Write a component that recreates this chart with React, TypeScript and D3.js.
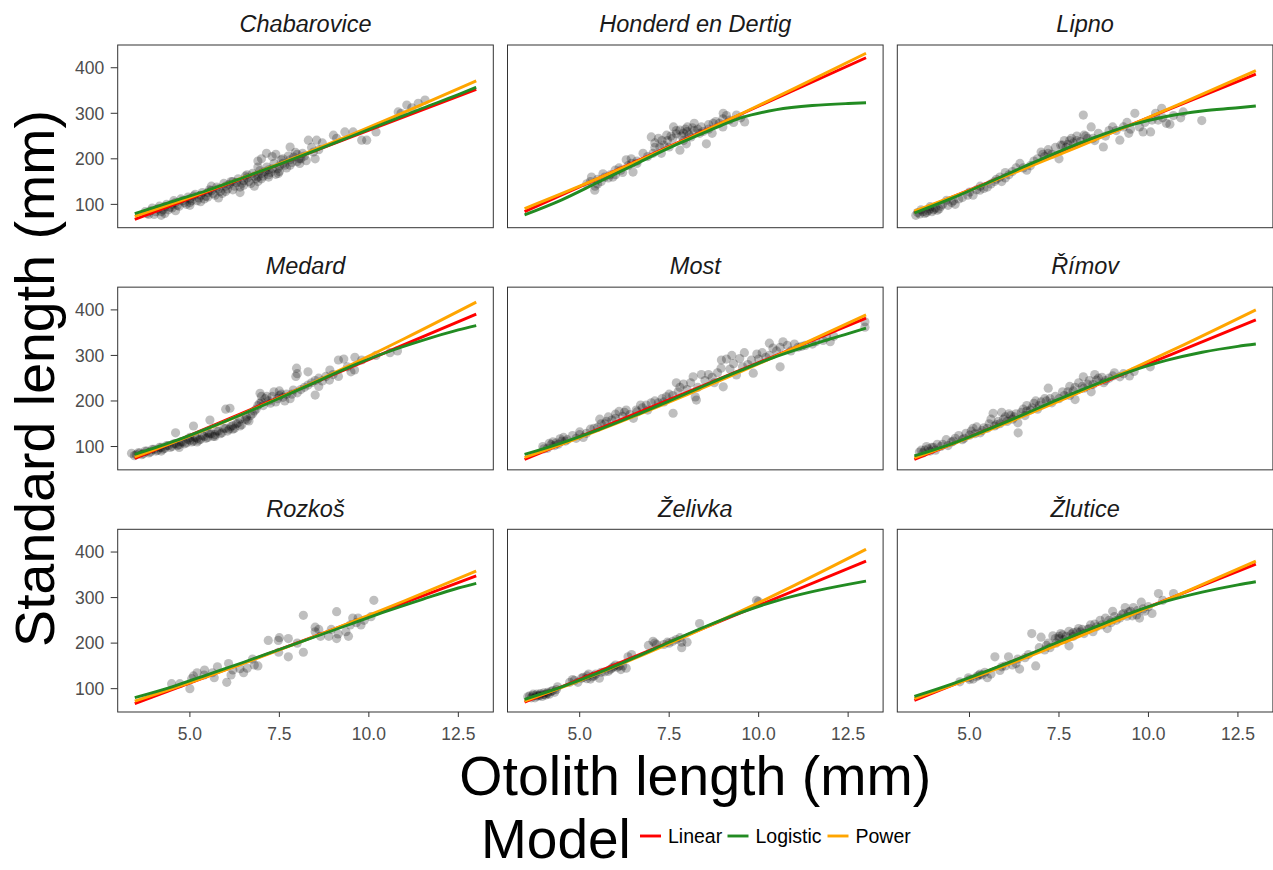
import React from "react";
import * as d3 from "d3";

// ---------------- DATA ----------------
const lakes = [
  "Chabarovice", "Honderd en Dertig", "Lipno",
  "Medard", "Most", "Římov",
  "Rozkoš", "Želivka", "Žlutice",
];
const modelColors: Record<string, string> = { Linear: "#ff0000", Logistic: "#228b22", Power: "#ffa500" };
const xTicks = [5, 7.5, 10, 12.5];
const yTicks = [100, 200, 300, 400];

// fitted lines
const linearX = [3.46, 13];
const linearY = [
  [67, 352.5], [84, 422], [82.5, 386],
  [73.7, 390.6], [71.5, 381.8], [71.5, 378],
  [67, 347.9], [70.6, 380.2], [74.3, 373.6],
];
const powerX = [3.46, 5, 6.5, 8, 9.5, 11, 13];
const powerY = [
  [73.7, 115.5, 159.1, 205.1, 252.9, 302.5, 371],
  [90.6, 139.9, 190.6, 243.6, 298.3, 354.7, 431.7],
  [85.4, 130.9, 177.1, 225, 274.2, 324.6, 393.5],
  [77.2, 123.4, 172.4, 224.6, 279.6, 337.1, 417],
  [75.9, 119.6, 165.3, 213.6, 264.1, 316.5, 389],
  [75, 119.5, 166.5, 216.5, 269.1, 323.8, 400],
  [72.8, 113.4, 155.5, 199.7, 245.6, 293, 358.2],
  [72.8, 117.4, 165.1, 216.2, 270.2, 326.9, 406],
  [78, 121.2, 165.9, 212.7, 261.3, 311.4, 380.2],
];
const logisticX = [3.46, 4.5, 5.5, 6.5, 7.5, 8.5, 9.5, 10.5, 11.5, 12.5, 13];
const logisticY = [
  [79.6, 106, 131, 159, 188, 218, 249, 280, 311, 341, 357],
  [77, 110, 148, 186, 224, 258, 290, 308, 317, 321.5, 323],
  [81, 113, 147, 182, 216, 247, 274, 293, 305, 312, 316],
  [82.5, 110, 140, 172, 206, 241, 276, 307, 333, 356, 365.5],
  [82.5, 108, 136, 167, 200, 234, 267, 298, 324, 348, 359.8],
  [79.4, 106, 137, 170, 204, 236, 265, 289, 307, 320, 325],
  [80.3, 104, 131, 158, 186, 214, 242, 270, 296, 321, 331.2],
  [76.5, 104, 134, 167, 202, 236, 267, 293, 313, 329, 336.2],
  [83, 110, 139, 170, 203, 235, 266, 292, 312, 328, 334.7],
];

// observations [otolith length, standard length]
const chabarovicePts = [
  [3.8, 80], [3.9, 86], [4.0, 78], [4.1, 90], [4.2, 84], [4.3, 95], [4.4, 88], [4.5, 100], [4.5, 92], [4.6, 104],
  [4.7, 96], [4.8, 108], [4.9, 100], [5.0, 112], [5.0, 104], [5.1, 118], [5.2, 108], [5.3, 120], [5.4, 112], [5.5, 126],
  [5.5, 116], [5.6, 130], [5.7, 120], [5.8, 134], [5.9, 124], [6.0, 140], [6.0, 128], [6.1, 144], [6.2, 132], [6.3, 148],
  [6.4, 138], [6.5, 152], [6.5, 142], [6.6, 158], [6.7, 146], [6.8, 162], [6.9, 150], [7.0, 168], [7.0, 156], [7.1, 172],
  [7.2, 160], [7.3, 178], [7.4, 166], [7.5, 184], [7.5, 172], [7.6, 190], [7.7, 180], [7.8, 198], [7.8, 186], [7.9, 204],
  [8.0, 194], [8.0, 210], [8.1, 200], [8.2, 206], [7.47, 168], [7.8, 226], [8.07, 190], [8.31, 241], [8.54, 241], [8.45, 215],
  [8.6, 220], [8.5, 200], [9.01, 252], [9.1, 245], [9.33, 259], [9.56, 259], [9.8, 241], [9.94, 241], [10.2, 259], [10.82, 303],
  [10.9, 300], [11.06, 318], [11.2, 312], [11.38, 322], [11.57, 329], [4.2, 76], [4.6, 86], [5.3, 106], [6.2, 150], [6.8, 140],
  [7.2, 176], [6.4, 126], [5.8, 114], [7.0, 200], [7.14, 212], [7.3, 205], [6.9, 195], [7.4, 210], [7.6, 200], [6.6, 165],
  [6.9, 160], [7.2, 165],
];
const chabarovicePts2 = [
  [3.75, 84], [3.85, 78], [3.95, 92], [4.05, 84], [4.15, 96], [4.25, 88], [4.35, 100], [4.45, 94], [4.55, 108], [4.65, 98],
  [4.75, 112], [4.85, 104], [4.95, 116], [5.05, 108], [5.15, 122], [5.25, 114], [5.35, 126], [5.45, 118], [5.55, 132], [5.65, 124],
  [5.75, 138], [5.85, 128], [5.95, 146], [6.05, 134], [6.15, 150], [6.25, 140], [6.35, 156], [6.45, 146], [6.55, 162], [6.65, 150],
  [6.75, 168], [6.85, 156], [6.95, 174], [7.05, 162], [7.15, 182], [7.25, 170], [7.35, 190], [7.45, 178], [7.55, 198], [7.65, 186],
  [7.75, 206], [7.85, 192], [7.95, 214], [8.05, 200], [8.15, 212], [8.25, 196], [8.4, 225], [8.7, 235], [5.6, 140], [6.9, 182],
  [4.3, 80], [5.0, 98],
];
const honderdPts = [
  [5.42, 131], [5.43, 140], [5.33, 160], [5.65, 167], [5.93, 160], [5.99, 175], [6.3, 198], [6.44, 200], [6.49, 171], [6.77, 212],
  [7.0, 248], [7.24, 226], [7.28, 212], [7.43, 252], [7.62, 270], [7.8, 263], [7.98, 233], [8.01, 270], [8.11, 248], [8.35, 256],
  [8.54, 233], [8.73, 278], [9.01, 300], [9.18, 285], [9.38, 296], [9.61, 281], [7.8, 219], [7.5, 226], [7.05, 212], [7.9, 256],
  [8.2, 278], [8.7, 256], [9.0, 270], [5.6, 150], [5.8, 158], [6.1, 180], [6.2, 170], [6.6, 190], [6.9, 205], [7.1, 235],
  [7.3, 240], [7.6, 245], [7.7, 255], [7.9, 240], [8.0, 260], [8.2, 262], [8.4, 270], [8.6, 265], [8.8, 282], [9.0, 288],
  [9.3, 280], [5.2, 145], [5.5, 145],
];
const honderdPts2 = [
  [5.3, 150], [5.5, 155], [5.7, 160], [5.85, 165], [6.0, 165], [6.15, 175], [6.35, 185], [6.45, 190], [6.6, 195], [7.1, 225],
  [7.2, 245], [7.35, 230], [7.45, 240], [7.55, 250], [7.7, 262], [7.85, 250], [7.95, 265], [8.05, 252], [8.15, 268], [8.3, 265],
  [8.45, 260], [8.6, 275], [8.9, 278], [9.1, 295], [9.5, 290],
];
const lipnoPts = [
  [3.61, 79], [3.7, 84], [3.8, 82], [3.89, 90], [4.0, 88], [4.1, 87], [4.2, 96], [4.36, 109], [4.5, 104], [4.7, 112],
  [5.0, 127], [5.1, 120], [5.29, 131], [5.5, 138], [5.7, 150], [5.85, 160], [5.9, 150], [6.1, 165], [6.3, 180], [6.41, 190],
  [6.6, 175], [6.8, 195], [7.0, 215], [7.1, 205], [7.3, 210], [7.5, 200], [7.6, 230], [7.8, 240], [7.9, 235], [8.0, 250],
  [8.1, 238], [8.18, 296], [8.3, 245], [8.4, 270], [8.6, 256], [8.74, 226], [8.9, 262], [9.2, 241], [9.45, 256], [9.62, 300],
  [9.85, 259], [10.06, 259], [10.27, 285], [10.37, 311], [10.5, 278], [10.6, 276], [10.97, 303], [11.49, 284], [7.7, 225], [8.2, 252],
  [3.5, 76], [3.9, 95], [4.6, 100], [5.3, 140], [6.0, 170], [7.2, 220], [8.5, 240], [9.0, 270], [9.4, 280], [10.2, 300],
];
const lipnoPts2 = [
  [3.55, 82], [3.65, 88], [3.75, 80], [3.85, 86], [3.95, 84], [4.05, 92], [4.15, 90], [4.25, 100], [4.4, 98], [4.55, 108],
  [4.8, 115], [4.95, 120], [5.2, 132], [5.4, 135], [5.6, 145], [5.75, 155], [6.0, 158], [6.2, 172], [6.5, 180], [6.7, 185],
  [6.9, 200], [7.05, 210], [7.2, 212], [7.4, 225], [7.55, 230], [7.65, 240], [7.75, 232], [7.85, 245], [8.0, 240], [8.25, 250],
  [8.45, 245], [8.8, 250], [9.1, 262], [9.3, 270], [9.5, 265], [9.75, 270], [9.9, 280], [10.1, 285], [10.4, 290], [10.7, 295],
  [10.9, 290],
];
const medardPts = [
  [3.5, 82], [3.6, 86], [3.7, 84], [3.8, 90], [3.9, 88], [4.0, 94], [4.1, 92], [4.2, 98], [4.3, 96], [4.4, 102],
  [4.5, 100], [4.6, 106], [4.7, 104], [4.8, 110], [4.9, 108], [5.0, 114], [5.1, 112], [5.2, 118], [5.3, 116], [5.4, 122],
  [5.5, 120], [5.6, 128], [5.7, 126], [5.8, 134], [5.9, 130], [6.0, 140], [6.1, 138], [6.2, 146], [6.3, 150], [6.4, 145],
  [6.6, 158], [6.7, 168], [6.8, 178], [6.9, 190], [7.0, 198], [7.1, 205], [7.2, 200], [7.3, 210], [7.4, 198], [7.5, 212],
  [7.6, 208], [7.7, 215], [7.8, 205], [8.0, 218], [8.2, 230], [8.4, 240], [8.6, 250], [8.7, 244], [4.2, 90], [4.7, 98],
  [5.2, 110], [5.7, 122], [6.2, 138], [5.0, 120], [5.5, 130], [7.98, 272], [8.0, 260], [8.3, 264], [7.96, 254], [8.5, 213],
  [8.91, 268], [9.15, 290], [9.3, 292], [9.61, 296], [9.6, 268], [9.15, 254], [8.9, 246], [8.8, 254], [9.5, 264], [10.59, 306],
  [10.8, 310], [7.89, 224], [7.5, 222], [6.96, 217], [7.0, 210], [6.58, 165], [6.4, 160], [6.12, 184], [6.0, 182], [5.56, 158],
  [5.1, 145], [4.6, 130], [3.37, 85],
];
const medardPts2 = [
  [3.45, 80], [3.55, 86], [3.65, 82], [3.75, 90], [3.85, 86], [3.95, 94], [4.05, 90], [4.15, 98], [4.25, 94], [4.35, 102],
  [4.45, 98], [4.55, 106], [4.65, 102], [4.75, 110], [4.85, 106], [4.95, 116], [5.05, 110], [5.15, 120], [5.25, 114], [5.35, 124],
  [5.45, 118], [5.55, 128], [5.65, 122], [5.75, 134], [5.85, 128], [5.95, 140], [6.05, 134], [6.15, 144], [6.25, 140], [6.35, 152],
  [6.45, 148], [6.55, 160], [6.65, 156], [6.75, 172], [6.85, 182], [6.95, 195], [7.05, 190], [7.15, 210], [7.25, 195], [7.35, 220],
  [7.45, 205], [7.55, 215], [7.65, 200], [7.85, 215], [8.1, 225], [8.3, 235], [8.5, 245], [8.6, 232], [9.0, 258], [9.4, 275],
  [9.8, 290], [10.2, 300],
];
const mostPts = [
  [7.61, 173], [8.26, 202], [8.23, 209], [8.96, 290], [9.1, 292], [8.95, 272], [9.01, 231], [9.38, 257], [9.85, 261], [10.6, 275],
  [10.68, 330], [10.3, 327], [9.47, 293], [8.17, 253], [8.4, 258], [8.76, 240], [7.9, 237], [7.7, 240], [7.42, 209], [7.2, 196],
  [6.86, 191], [6.58, 180], [6.3, 180], [6.0, 171], [5.8, 165], [5.56, 160], [5.19, 129], [4.8, 124], [4.45, 117], [4.15, 107],
  [4.3, 102], [4.6, 112], [5.0, 126], [5.4, 140], [5.7, 150], [6.1, 177], [6.4, 170], [6.7, 191], [7.1, 200], [8.3, 230],
  [8.6, 258], [9.25, 300], [9.6, 306], [9.95, 303], [10.1, 306], [10.4, 316], [10.8, 322], [10.9, 310], [11.1, 318], [11.3, 322],
  [11.5, 325], [11.8, 333], [12.0, 330], [12.97, 374], [12.97, 362], [3.97, 100], [4.1, 96], [4.4, 105], [5.1, 120], [5.9, 158],
  [6.5, 162], [7.5, 215], [8.0, 225], [9.7, 280], [10.2, 296],
];
const mostPts2 = [
  [4.0, 95], [4.2, 104], [4.25, 110], [4.35, 108], [4.5, 112], [4.55, 120], [4.65, 115], [4.9, 118], [5.0, 132], [5.3, 138],
  [5.5, 142], [5.6, 150], [5.75, 155], [6.0, 162], [6.2, 166], [6.25, 175], [6.6, 176], [6.75, 185], [6.9, 180], [7.0, 196],
  [7.3, 205], [7.35, 198], [7.6, 212], [7.75, 220], [7.8, 230], [8.1, 240], [8.5, 245], [8.7, 252], [8.85, 262], [9.2, 270],
  [9.3, 282], [9.55, 275], [9.8, 290], [10.0, 292], [10.3, 300], [10.5, 310], [10.6, 318], [11.0, 325], [11.2, 320], [11.6, 330],
  [11.9, 340], [12.1, 342],
];
const rimovPts = [
  [7.2, 228], [7.8, 232], [8.18, 253], [8.5, 258], [8.75, 240], [9.2, 253], [9.47, 255], [10.05, 275], [6.36, 130], [5.66, 173],
  [5.9, 175], [5.2, 143], [5.55, 150], [6.6, 190], [6.55, 168], [7.4, 210], [7.6, 220], [7.95, 230], [8.3, 237], [8.4, 220],
  [7.95, 203], [7.3, 196], [6.95, 190], [6.85, 200], [6.3, 172], [6.0, 165], [5.4, 141], [5.05, 134], [4.7, 124], [4.35, 115],
  [4.1, 105], [3.8, 100], [3.75, 92], [3.95, 98], [4.5, 110], [4.9, 129], [5.75, 148], [6.1, 172], [6.35, 152], [7.8, 212],
  [8.15, 232], [8.8, 245], [9.0, 255], [8.55, 246], [3.6, 88], [3.9, 90], [4.2, 100], [4.8, 115], [5.3, 130], [5.8, 155],
  [6.2, 160], [6.7, 180], [7.1, 205], [6.5, 182],
];
const rimovPts2 = [
  [3.65, 92], [3.7, 86], [3.85, 95], [4.0, 98], [4.05, 92], [4.25, 105], [4.4, 102], [4.55, 112], [4.6, 118], [4.85, 118],
  [5.0, 125], [5.1, 140], [5.15, 128], [5.35, 135], [5.5, 140], [5.6, 160], [5.7, 145], [5.85, 150], [5.95, 160], [6.05, 155],
  [6.15, 168], [6.25, 165], [6.45, 175], [6.6, 178], [6.75, 185], [6.8, 195], [6.9, 182], [7.0, 198], [7.15, 200], [7.25, 205],
  [7.5, 205], [7.65, 212], [7.75, 220], [7.9, 222], [8.05, 240], [8.2, 228], [8.35, 245], [8.45, 236], [8.6, 250], [8.7, 252],
  [8.9, 250], [9.05, 262], [9.3, 260], [9.6, 265],
];
const rozkosPts = [
  [4.49, 111], [4.72, 111], [5.0, 100], [5.05, 122], [5.1, 128], [5.2, 135], [5.4, 130], [5.41, 141], [5.63, 135], [5.68, 124],
  [5.77, 148], [6.03, 114], [6.08, 155], [6.15, 130], [6.2, 141], [6.4, 144], [6.5, 135], [6.6, 145], [6.75, 165], [6.8, 152],
  [6.9, 150], [7.19, 206], [7.47, 206], [7.5, 212], [7.48, 180], [7.75, 170], [7.75, 210], [8.0, 200], [8.17, 261], [8.17, 180],
  [8.5, 225], [8.5, 235], [8.65, 215], [8.6, 230], [8.88, 215], [8.95, 230], [9.1, 269], [9.1, 210], [9.14, 220], [9.36, 225],
  [9.43, 215], [9.48, 240], [9.55, 255], [9.65, 245], [9.7, 255], [9.78, 240], [10.06, 258], [10.14, 294], [9.87, 250],
];
const zelivkaPts = [
  [3.55, 82], [3.7, 85], [3.8, 88], [3.9, 89], [4.0, 91], [4.1, 92], [4.2, 94], [4.35, 98], [4.38, 104], [3.75, 80],
  [3.95, 83], [4.15, 88], [3.7, 88], [4.72, 114], [4.8, 120], [4.95, 114], [5.05, 123], [5.2, 128], [5.3, 121], [5.4, 128],
  [5.55, 123], [5.6, 136], [5.8, 138], [5.9, 145], [6.05, 147], [6.15, 142], [6.2, 150], [6.3, 145], [6.45, 175], [6.35, 170],
  [6.92, 195], [7.05, 204], [7.15, 197], [7.35, 197], [7.45, 202], [7.6, 204], [7.8, 212], [7.85, 202], [7.85, 190], [8.0, 202],
  [8.35, 243], [9.94, 294], [10.0, 291], [3.85, 84], [4.05, 86], [5.25, 132], [6.0, 152],
];
const zelivkaPts2 = [
  [3.6, 84], [3.65, 80], [3.8, 84], [3.9, 86], [4.0, 87], [4.1, 89], [4.25, 96], [4.3, 92], [4.85, 118], [5.1, 125],
  [5.2, 122], [5.35, 126], [5.45, 132], [5.7, 137], [5.85, 142], [5.95, 148], [6.1, 150], [7.1, 200], [7.5, 200], [7.7, 208],
];
const zluticePts = [
  [4.73, 115], [4.97, 124], [5.1, 121], [5.25, 129], [5.43, 136], [5.5, 124], [5.71, 170], [5.85, 140], [6.09, 170], [6.2, 152],
  [6.35, 165], [6.4, 143], [6.65, 175], [6.74, 221], [6.85, 150], [7.0, 213], [6.95, 190], [7.1, 185], [7.25, 190], [7.33, 216],
  [7.42, 200], [7.55, 221], [7.65, 208], [7.78, 194], [7.78, 226], [7.9, 223], [8.05, 232], [8.2, 221], [8.38, 240], [8.45, 225],
  [8.65, 250], [8.8, 255], [8.85, 232], [9.0, 270], [9.1, 250], [9.2, 255], [9.35, 278], [9.4, 259], [9.58, 278], [9.67, 262],
  [9.75, 255], [9.9, 270], [10.1, 265], [10.28, 309], [10.7, 309], [10.4, 294], [9.8, 290], [7.9, 215], [8.3, 230], [8.55, 236],
  [8.95, 245], [9.3, 265], [7.2, 200], [5.3, 132], [6.0, 150], [7.5, 210], [8.1, 225], [9.5, 270],
];
const zluticePts2 = [
  [5.0, 120], [5.2, 126], [5.35, 130], [5.6, 132], [5.9, 148], [6.3, 155], [6.55, 168], [7.15, 195], [7.4, 210], [7.5, 215],
  [7.6, 218], [7.7, 215], [7.85, 220], [8.0, 225], [8.15, 230], [8.35, 232], [8.5, 242], [8.7, 240], [8.9, 250], [9.05, 258],
  [9.25, 262], [9.45, 268], [9.55, 260], [9.7, 272], [9.85, 275], [10.0, 280],
];
const lakePoints = [
  [...chabarovicePts, ...chabarovicePts2], [...honderdPts, ...honderdPts2], [...lipnoPts, ...lipnoPts2],
  [...medardPts, ...medardPts2], [...mostPts, ...mostPts2], [...rimovPts, ...rimovPts2],
  rozkosPts, [...zelivkaPts, ...zelivkaPts2], [...zluticePts, ...zluticePts2],
];

// ---------------- LAYOUT ----------------
const W = 1273;
const H = 870;
const FONT = "'Liberation Sans', Arial, Helvetica, sans-serif";
const panelLeft = 117.7;
const panelTop = 45;
const panelW = 375.6;
const panelH = 182.7;
const colStep = 389.8;
const rowStep = 242.15;

function expand(ext: [number, number], f = 0.05): [number, number] {
  const d = ext[1] - ext[0];
  return [ext[0] - d * f, ext[1] + d * f];
}

const allCurveY = [...linearY.flat(), ...powerY.flat(), ...logisticY.flat()];
const xDomain = expand([d3.min(linearX)!, d3.max(linearX)!]);
const yDomain = expand([d3.min(allCurveY)!, d3.max(allCurveY)!]);

const xScale = d3.scaleLinear().domain(xDomain).range([0, panelW]);
const yScale = d3.scaleLinear().domain(yDomain).range([panelH, 0]);

const lineGen = d3
  .line<[number, number]>()
  .x((d) => xScale(d[0]))
  .y((d) => yScale(d[1]))
  .curve(d3.curveMonotoneX);

function zip(xs: number[], ys: number[]): [number, number][] {
  return xs.map((x, i) => [x, ys[i]] as [number, number]);
}

const legendItems = [
  { model: "Linear", x: 640 },
  { model: "Logistic", x: 727.5 },
  { model: "Power", x: 827.5 },
];

function Panel({ idx }: { idx: number }) {
  const col = idx % 3;
  const row = Math.floor(idx / 3);
  const tx = panelLeft + col * colStep;
  const ty = panelTop + row * rowStep;
  const pts = lakePoints[idx];
  const curves: { model: string; d: string }[] = [
    { model: "Linear", d: lineGen(zip(linearX, linearY[idx]))! },
    { model: "Power", d: lineGen(zip(powerX, powerY[idx]))! },
    { model: "Logistic", d: lineGen(zip(logisticX, logisticY[idx]))! },
  ];
  return (
    <g transform={`translate(${tx},${ty})`}>
      <text
        x={panelW / 2}
        y={-12.7}
        textAnchor="middle"
        fontStyle="italic"
        fontSize={23.5}
        fill="#1a1a1a"
      >
        {lakes[idx]}
      </text>
      <rect x={0} y={0} width={panelW} height={panelH} fill="#ffffff" />
      {pts.map((p, i) => (
        <circle key={i} cx={xScale(p[0])} cy={yScale(p[1])} r={4.6} fill="#000000" fillOpacity={0.25} />
      ))}
      {curves.map((c) => (
        <path key={c.model} d={c.d} fill="none" stroke={modelColors[c.model]} strokeWidth={2.9} />
      ))}
      <rect x={0} y={0} width={panelW} height={panelH} fill="none" stroke="#333333" strokeWidth={1} />
      {col === 0 &&
        yTicks.map((t) => (
          <g key={t} transform={`translate(0,${yScale(t)})`}>
            <line x1={-7} x2={0} stroke="#333333" strokeWidth={1} />
            <text x={-13.5} dy="0.36em" textAnchor="end" fontSize={17.5} fill="#4d4d4d">
              {t}
            </text>
          </g>
        ))}
      {row === 2 &&
        xTicks.map((t) => (
          <g key={t} transform={`translate(${xScale(t)},${panelH})`}>
            <line y1={0} y2={5} stroke="#333333" strokeWidth={1} />
            <text y={28} textAnchor="middle" fontSize={17.5} fill="#4d4d4d">
              {d3.format(".1f")(t)}
            </text>
          </g>
        ))}
    </g>
  );
}

export default function App() {
  const plotMidX = panelLeft + (2 * colStep + panelW) / 2;
  const plotMidY = panelTop + (2 * rowStep + panelH) / 2;
  return (
    <svg
      width={W}
      height={H}
      viewBox={`0 0 ${W} ${H}`}
      style={{ position: "absolute", left: 0, top: 0, background: "#ffffff" }}
      fontFamily={FONT}
    >
      <rect width={W} height={H} fill="#ffffff" />
      {lakes.map((_, i) => (
        <Panel key={i} idx={i} />
      ))}
      <text x={plotMidX} y={795} textAnchor="middle" fontSize={55.5} fill="#000000">
        Otolith length (mm)
      </text>
      <text
        transform={`translate(54,${plotMidY}) rotate(-90)`}
        textAnchor="middle"
        fontSize={55.5}
        fill="#000000"
      >
        Standard length (mm)
      </text>
      <text x={481} y={858} fontSize={55} fill="#000000">
        Model
      </text>
      {legendItems.map((it) => (
        <g key={it.model}>
          <line x1={it.x} x2={it.x + 21} y1={836} y2={836} stroke={modelColors[it.model]} strokeWidth={2.9} />
          <text x={it.x + 28} y={843} fontSize={19.5} fill="#000000">
            {it.model}
          </text>
        </g>
      ))}
    </svg>
  );
}
